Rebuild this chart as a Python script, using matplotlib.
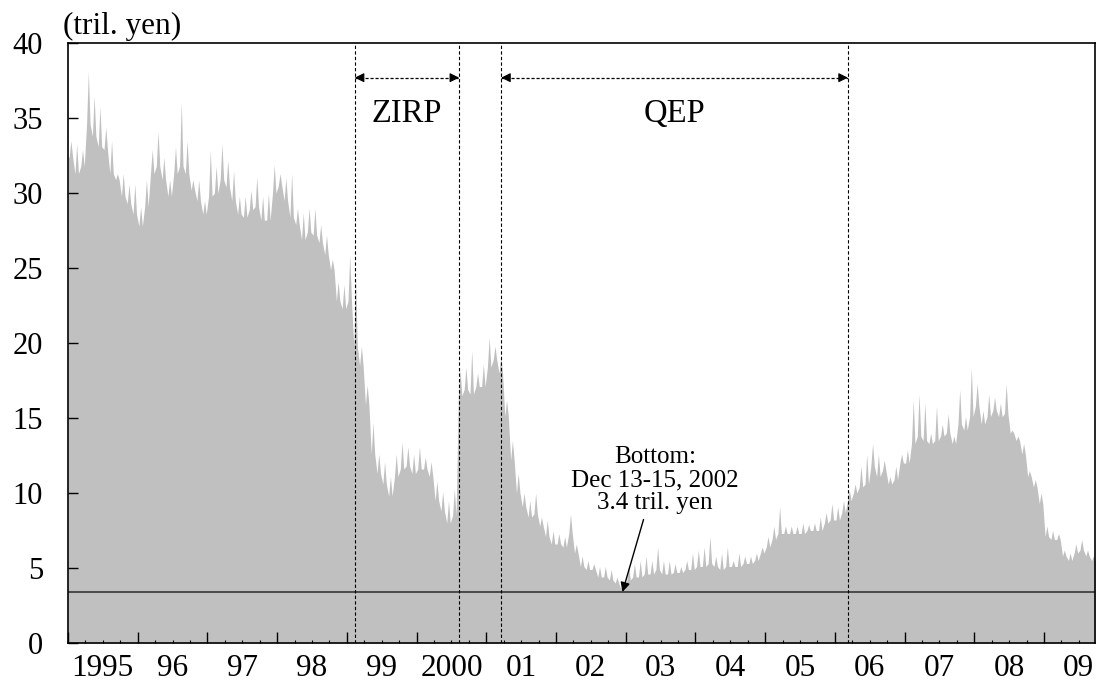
import numpy as np
import matplotlib.pyplot as plt
from matplotlib.ticker import MultipleLocator

plt.rcParams['font.family'] = ['Liberation Serif', 'DejaVu Serif']

# Current account balances at the BOJ, monthly readings Jan 1995 - Sep 2009 (tril. yen)
# level = typical value of the month, peak = highest daily spike in the month
start_year = 1995
level = [
    32.4, 31.3, 31.8, 34.6, 33.8, 33.1, 32.9, 31.3, 30.9, 29.8, 29.3, 28.6,   # 1995
    27.8, 29.1, 31.3, 31.8, 30.9, 29.8, 31.3, 31.8, 31.3, 30.2, 29.5, 28.6,   # 1996
    29.8, 30.0, 30.9, 30.4, 29.5, 28.6, 28.4, 28.9, 29.1, 28.2, 28.2, 30.0,   # 1997
    30.5, 29.5, 28.4, 27.9, 26.9, 27.4, 27.2, 26.7, 25.9, 24.9, 22.8, 22.3,   # 1998
    22.8, 19.8, 18.5, 15.9, 12.6, 11.3, 10.6, 9.8, 11.1, 11.6, 11.8, 11.3,    # 1999
    11.6, 11.6, 11.1, 9.5, 8.8, 8.0, 8.5, 16.5, 16.9, 16.6, 17.1, 17.1,       # 2000
    18.4, 18.9, 18.0, 15.1, 12.2, 10.0, 9.1, 8.4, 8.6, 7.8, 7.1, 6.6,         # 2001
    6.6, 6.4, 7.3, 6.0, 5.1, 4.9, 4.9, 4.4, 4.4, 4.2, 4.0, 3.6,               # 2002
    4.2, 4.4, 4.4, 4.6, 4.6, 4.9, 4.6, 4.6, 4.7, 4.7, 4.9, 4.9,               # 2003
    5.1, 5.1, 5.3, 5.1, 4.9, 5.1, 5.1, 5.1, 5.3, 5.3, 5.5, 6.0,               # 2004
    6.4, 6.9, 7.3, 7.3, 7.3, 7.3, 7.3, 7.5, 7.5, 7.5, 8.0, 8.2,               # 2005
    8.2, 8.7, 9.5, 10.0, 10.4, 10.6, 11.8, 11.1, 11.5, 10.6, 10.9, 12.0,      # 2006
    12.0, 13.3, 13.8, 13.5, 13.3, 13.5, 13.8, 14.0, 13.3, 14.6, 14.2, 15.1,   # 2007
    15.8, 14.6, 15.1, 15.5, 15.1, 15.3, 14.0, 13.5, 12.6, 11.1, 10.4, 9.3,    # 2008
    7.1, 6.9, 6.9, 5.8, 5.5, 6.0, 6.2, 5.8, 5.5,                              # 2009
]
peak = [
    33.5, 33.3, 32.9, 38.1, 36.5, 35.8, 34.4, 33.5, 31.3, 31.3, 30.6, 30.6,
    29.1, 30.9, 32.9, 34.1, 32.4, 30.9, 33.1, 36.1, 33.5, 30.9, 30.9, 29.5,
    32.9, 31.8, 33.3, 32.2, 31.5, 29.8, 29.8, 30.2, 31.1, 29.8, 30.0, 31.9,
    31.3, 31.0, 31.3, 29.0, 28.7, 29.0, 29.0, 27.9, 27.2, 25.6, 24.1, 23.9,
    25.9, 24.4, 19.8, 17.2, 14.7, 12.6, 12.1, 11.1, 12.6, 13.4, 13.1, 12.6,
    13.1, 12.4, 12.1, 10.8, 10.1, 9.5, 10.3, 18.2, 18.4, 19.5, 18.0, 18.6,
    20.4, 19.8, 19.1, 16.2, 13.5, 11.3, 10.0, 9.5, 10.0, 8.4, 8.2, 7.5,
    7.3, 7.1, 8.6, 6.6, 5.8, 5.5, 5.3, 5.1, 5.1, 4.9, 4.4, 4.2,
    5.1, 5.3, 5.5, 5.8, 5.5, 6.4, 5.5, 5.5, 5.3, 5.1, 5.5, 6.0,
    6.2, 6.4, 7.1, 5.8, 6.0, 6.4, 5.5, 6.0, 5.8, 5.8, 6.0, 6.4,
    7.1, 7.8, 9.1, 7.8, 7.8, 7.8, 8.0, 7.9, 8.0, 8.4, 8.7, 9.3,
    9.1, 9.5, 10.2, 10.6, 11.8, 12.6, 13.3, 12.6, 12.2, 11.1, 11.8, 12.6,
    12.9, 16.2, 16.6, 16.0, 14.0, 15.8, 14.6, 15.3, 13.8, 16.9, 15.1, 18.4,
    17.3, 15.5, 16.6, 16.4, 16.0, 17.3, 14.2, 13.8, 13.3, 11.5, 10.9, 10.0,
    7.8, 7.5, 7.3, 6.2, 6.0, 6.6, 6.9, 6.2, 5.8,
]
bottom_value = 3.4
bottom_date = 2002 + 11.45 / 12
# policy dates: ZIRP start/end, QEP start/end
zirp = (1999 + 1.37 / 12, 2000 + 7.33 / 12)
qep = (2001 + 2.57 / 12, 2006 + 2.25 / 12)
year_labels = ['1995', '96', '97', '98', '99', '2000', '01', '02', '03', '04',
               '05', '06', '07', '08', '09']

# build a spiky line: each month holds its level with one spike to the peak
months = start_year + np.arange(len(level)) / 12.0
t = [months[0]]
v = [level[0]]
for i, m in enumerate(months):
    t += [m + 0.2 / 12, m + 0.5 / 12, m + 0.8 / 12]
    v += [level[i], peak[i], level[i]]
t.append(months[-1] + 1 / 12)
v.append(level[-1])

fig = plt.figure(figsize=(11.02, 6.91), dpi=100)
ax = fig.add_axes([0.0617, 0.0695, 0.932, 0.868])

ax.fill_between(t, 0, v, color='#c0c0c0', lw=0)
ax.axhline(bottom_value, color='#404040', lw=1.3)
for d in zirp + qep:
    ax.axvline(d, color='k', ls=(0, (3, 2)), lw=0.8)

# period arrows
for (a, b), name in [(zirp, 'ZIRP'), (qep, 'QEP')]:
    ax.plot([a, b], [37.7, 37.7], color='k', ls=(0, (2.5, 1.5)), lw=0.9)
    ax.annotate('', xy=(a, 37.7), xytext=(a + 0.05, 37.7),
                arrowprops=dict(arrowstyle='-|>', color='k', lw=0.8, mutation_scale=14,
                                shrinkA=0, shrinkB=0))
    ax.annotate('', xy=(b, 37.7), xytext=(b - 0.05, 37.7),
                arrowprops=dict(arrowstyle='-|>', color='k', lw=0.8, mutation_scale=14,
                                shrinkA=0, shrinkB=0))
    ax.text((a + b) / 2, 35.3, name, ha='center', va='center', fontsize=23.5)

ax.annotate('Bottom:\nDec 13-15, 2002\n3.4 tril. yen', xy=(bottom_date, bottom_value),
            xytext=(2003.42, 8.6), ha='center', va='bottom', fontsize=18,
            linespacing=1.05,
            arrowprops=dict(arrowstyle='-|>', color='k', lw=1.0, mutation_scale=14,
                            shrinkA=2, shrinkB=0))

ax.set_xlim(1995, 2009 + 8.8 / 12)
ax.set_ylim(0, 40)
ax.yaxis.set_major_locator(MultipleLocator(5))
ax.xaxis.set_major_locator(MultipleLocator(1))
ax.xaxis.set_minor_locator(MultipleLocator(0.25))
ax.tick_params(axis='x', which='major', direction='in', length=8, width=1, labelbottom=False)
ax.tick_params(axis='x', which='minor', direction='in', length=2.5, width=0.8)
ax.tick_params(axis='y', direction='in', length=7, width=1, labelsize=22, pad=18)
for i, lab in enumerate(year_labels):
    ax.text(start_year + i + 0.5, -0.018, lab, transform=ax.get_xaxis_transform(),
            ha='center', va='top', fontsize=22.5)
for s in ax.spines.values():
    s.set_linewidth(1.2)

ax.text(-0.005, 1.003, '(tril. yen)', transform=ax.transAxes, ha='left', va='bottom',
        fontsize=22.5)

fig.savefig('out.png', dpi=100)
